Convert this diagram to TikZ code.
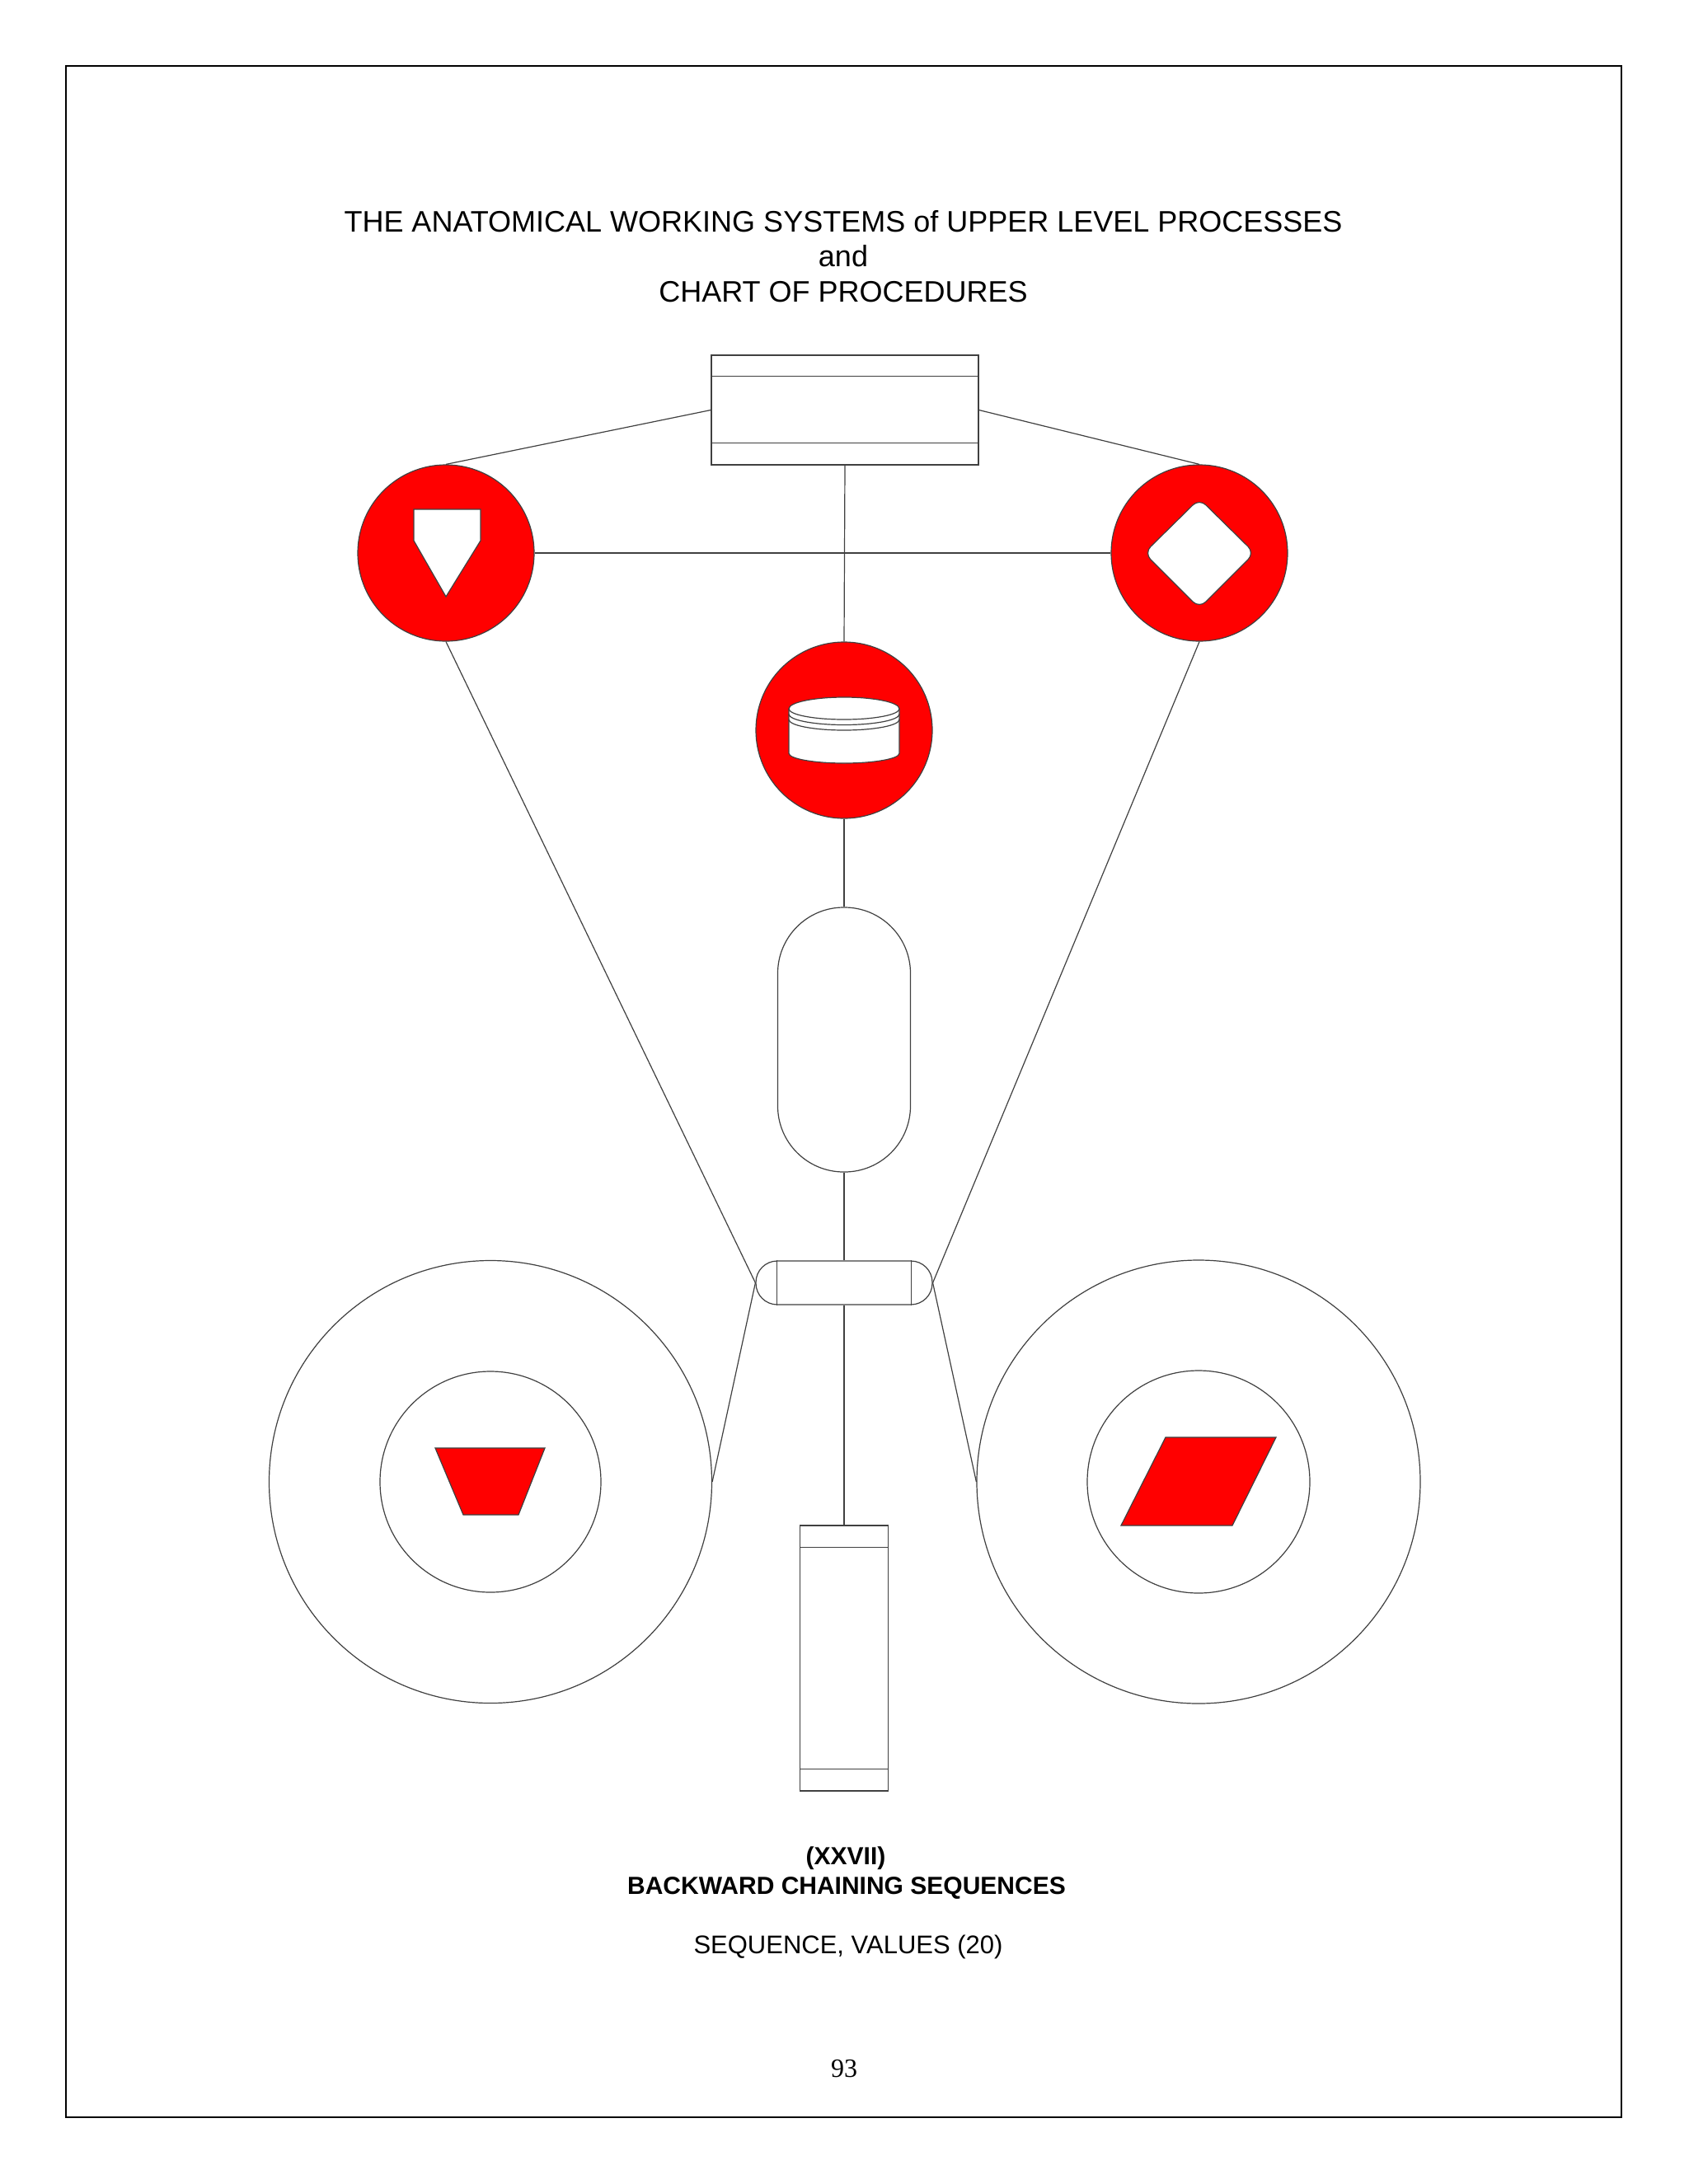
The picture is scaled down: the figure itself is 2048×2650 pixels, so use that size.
\documentclass[tikz,border=0pt]{standalone}
\usepackage{fontspec}
\setmainfont{Liberation Sans}
\newfontfamily\pagefont{Liberation Serif}
\begin{document}
\begin{tikzpicture}[x=1pt,y=1pt,
  ln/.style={line width=1.2pt, draw=black!75},
  boxsty/.style={rectangle, ln, fill=white, inner sep=0pt},
  redc/.style={circle, ln, fill=red, minimum size=214pt, inner sep=0pt},
  ring/.style={circle, ln, inner sep=0pt},
  redshape/.style={ln, fill=red},
  whiteshape/.style={ln, fill=white},
  ttl/.style={font=\fontsize{36}{42}\selectfont, anchor=base, inner sep=0pt},
  ttlb/.style={font=\fontsize{30}{36}\selectfont\bfseries, anchor=base, inner sep=0pt}]
\useasboundingbox (0,0) rectangle (2048,-2650);
\fill[white] (0,0) rectangle (2048,-2650);
\draw[line width=2.6pt] (80,-80) rectangle (1967,-2569);

% titles
\node[ttl] (t1) at (1023,-281) {THE ANATOMICAL WORKING SYSTEMS of UPPER LEVEL PROCESSES};
\node[ttl] (t2) at (1023,-323.5) {and};
\node[ttl] (t3) at (1023,-366) {CHART OF PROCEDURES};

% top box
\node[boxsty, minimum width=324pt, minimum height=133pt] (top) at (1025,-497.5) {};
\draw[ln] ([yshift=-26pt]top.north west) -- ([yshift=-26pt]top.north east);
\draw[ln] ([yshift=27pt]top.south west) -- ([yshift=27pt]top.south east);

% red circles
\node[redc] (L) at (541,-671) {};
\node[redc] (R) at (1455,-671) {};
\node[redc] (M) at (1024,-886) {};

% capsules and boxes
\node[boxsty, rounded corners=80pt, minimum width=161pt, minimum height=321pt] (cap) at (1024,-1261.5) {};
\node[boxsty, rounded corners=26pt, minimum width=214pt, minimum height=53pt] (sc) at (1024,-1556.5) {};
\draw[ln] ([xshift=26pt]sc.north west) -- ([xshift=26pt]sc.south west);
\draw[ln] ([xshift=-26pt]sc.north east) -- ([xshift=-26pt]sc.south east);
\node[boxsty, minimum width=107pt, minimum height=322pt] (tb) at (1024,-2012) {};
\draw[ln] ([yshift=-27pt]tb.north west) -- ([yshift=-27pt]tb.north east);
\draw[ln] ([yshift=27pt]tb.south west) -- ([yshift=27pt]tb.south east);

% big rings
\node[ring, minimum size=537pt] (BL) at (595,-1798) {};
\node[ring, minimum size=268pt] (bl) at (595,-1798) {};
\node[ring, minimum size=538pt] (BR) at (1454,-1798) {};
\node[ring, minimum size=270pt] (br) at (1454,-1798) {};

% connectors
\draw[ln] (top.west) -- (L.north);
\draw[ln] (top.east) -- (R.north);
\draw[ln] (L.east) -- (R.west);
\draw[ln] (top.south) -- (M.north);
\draw[ln] (M.south) -- (cap.north);
\draw[ln] (cap.south) -- (sc.north);
\draw[ln] (sc.south) -- (tb.north);
\draw[ln] (L.south) -- (sc.west);
\draw[ln] (R.south) -- (sc.east);
\draw[ln] (sc.west) -- (BL.east);
\draw[ln] (sc.east) -- (BR.west);

% symbols inside red circles
\draw[whiteshape] (502,-618) -- (583,-618) -- (583,-656) -- (541,-724) -- (502,-656) -- cycle;
\draw[whiteshape, rounded corners=11pt] (1488.5,-638) -- (1522,-671) -- (1455,-738) -- (1388,-671) -- (1455,-605) -- cycle;
\draw[whiteshape] (957,-860) -- (957,-914) arc[start angle=180, end angle=360, x radius=67, y radius=12]
  -- (1091,-860) arc[start angle=0, end angle=180, x radius=67, y radius=14] -- cycle;
\draw[ln] (957,-860) arc[start angle=180, end angle=360, x radius=67, y radius=13];
\draw[ln] (957,-866.5) arc[start angle=180, end angle=360, x radius=67, y radius=13];
\draw[ln] (957,-873) arc[start angle=180, end angle=360, x radius=67, y radius=13];

% red shapes in rings
\draw[redshape] (528,-1757) -- (661,-1757) -- (629,-1838) -- (562,-1838) -- cycle;
\draw[redshape] (1414,-1744) -- (1548,-1744) -- (1495,-1851) -- (1360,-1851) -- cycle;

% bottom texts
\node[ttlb] (b1) at (1026,-2262.5) {(XXVII)};
\node[ttlb] (b2) at (1027,-2298) {BACKWARD CHAINING SEQUENCES};
\node[ttl, font=\fontsize{31}{36}\selectfont] (b3) at (1029,-2370) {SEQUENCE, VALUES (20)};
\node[anchor=base, inner sep=0pt, font=\pagefont\fontsize{32}{38}\selectfont] (pg) at (1024,-2520) {93};
\end{tikzpicture}
\end{document}
